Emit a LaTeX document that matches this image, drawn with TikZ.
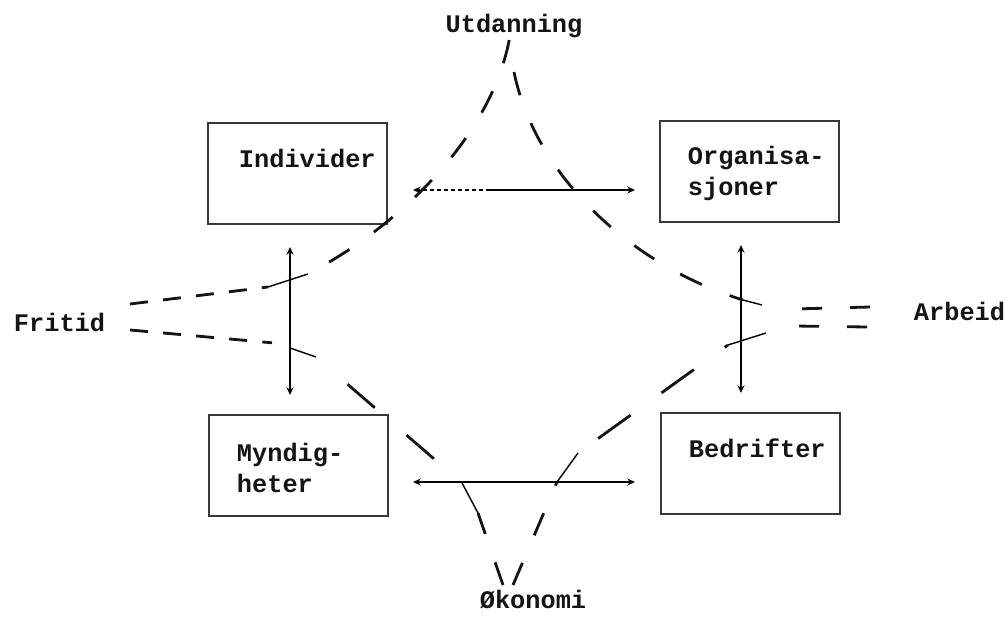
\documentclass[tikz,border=0pt]{standalone}
\usepackage{fontspec}
\setmonofont{Liberation Mono}
\usetikzlibrary{arrows.meta}
\definecolor{ink}{gray}{0.08}
\definecolor{rule}{gray}{0.22}
\definecolor{thin}{gray}{0.33}

\begin{document}
\begin{tikzpicture}[line width=1.4pt, font=\ttfamily\bfseries\fontsize{18}{22}\selectfont,
    box/.style={draw=rule, line width=1.6pt, minimum width=4.48cm, minimum height=2.52cm},
    word/.style={ink, inner sep=0pt, align=left},
    tip/.tip={Stealth[length=5.5pt,width=5pt]},
    arr/.style={thin, line width=1.4pt, tip-tip},
    tick/.style={thin, line width=1pt},
    link/.style={ink, line width=2pt, dash pattern=on 0.6cm off 0.75cm},
    linklong/.style={link, dash pattern=on 0.9cm off 1.05cm},
    linkshort/.style={link, dash pattern=on 0.45cm off 0.38cm},
    pair/.style={link, dash pattern=on 0.5cm off 0.7cm}]
  \useasboundingbox (0,0) rectangle (25.2,15.4);

  % the four actors
  \node[box] (indiv) at (7.44,11.06) {};
  \node[box] (org)   at (18.74,11.11) {};
  \node[box] (mynd)  at (7.46,3.76) {};
  \node[box] (bedr)  at (18.76,3.81) {};
  \node[word, anchor=base west] (t-indiv) at (5.95,11.225) {Individer};
  \node[word, anchor=base west] (t-org)   at (17.175,10.525) {Organisa-\\sjoner};
  \node[word, anchor=base west] (t-mynd)  at (5.9,3.1) {Myndig-\\heter};
  \node[word, anchor=base west] (t-bedr)  at (17.2,3.975) {Bedrifter};

  % the four fields round them
  \node[word, anchor=base] (utd) at (12.85,14.575) {Utdanning};
  \node[word, anchor=base west] (frit) at (0.325,7.125) {Fritid};
  \node[word, anchor=base west] (arb) at (22.825,7.4) {Arbeid};
  \node[word, anchor=base] (okon) at (13.325,0.2) {Økonomi};

  % arrow ends
  \coordinate (io-l) at (10.325,10.65);
  \coordinate (io-m) at (12.25,10.65);
  \coordinate (io-r) at (15.875,10.65);
  \coordinate (mb-l) at (10.325,3.35);
  \coordinate (mb-r) at (15.875,3.35);
  \coordinate (im-t) at (7.25,9.225);
  \coordinate (im-b) at (7.25,5.525);
  \coordinate (ob-t) at (18.525,9.275);
  \coordinate (ob-b) at (18.525,5.575);

  \draw[thin, line width=1.4pt, -tip] (io-m) -- (io-r);
  \draw[thin, line width=1.4pt, densely dashed, -tip] (io-m) -- (io-l);
  \draw[arr] (mb-l) -- (mb-r);
  \draw[arr] (im-t) -- (im-b);
  \draw[arr] (ob-t) -- (ob-b);

  % where the fields meet the arrows
  \coordinate (fu1) at (6.7,8.225);   \coordinate (fu2) at (7.7,8.55);
  \coordinate (fl1) at (7.25,6.7);    \coordinate (fl2) at (7.9,6.475);
  \coordinate (au1) at (18.575,7.9);  \coordinate (au2) at (19.05,7.775);
  \coordinate (al1) at (18.2,6.775);  \coordinate (al2) at (19.15,7.075);
  \coordinate (ol1) at (11.55,3.325); \coordinate (ol2) at (11.95,2.575);
  \coordinate (or1) at (13.925,3.35); \coordinate (or2) at (14.45,4.075);
  \foreach \a/\b in {fu1/fu2, fl1/fl2, au1/au2, al1/al2, ol1/ol2, or1/or2}
    \draw[tick] (\a) -- (\b);

  \coordinate (ut-l) at (12.73,14.4);
  \coordinate (ut-r) at (12.85,13.6);
  \coordinate (fr-u) at (3.25,7.8);
  \coordinate (fr-l) at (3.25,7.15);
  \coordinate (fr-e) at (6.8,6.83);
  \coordinate (ok-l) at (12.575,0.775);
  \coordinate (ok-r) at (12.825,0.775);
  \coordinate (ok-m) at (13.925,3.35);
  \coordinate (ar-u) at (21.75,7.725);
  \coordinate (ar-ue) at (19.825,7.675);
  \coordinate (ar-l) at (21.675,7.225);
  \coordinate (ar-le) at (19.875,7.25);

  \draw[link] (ut-l) .. controls (12.3,12.15) and (10.25,9.9) .. (fu2);
  \draw[link] (ut-r) .. controls (13.375,11.025) and (15.75,8.775) .. (au1);
  \draw[linkshort] (fr-u) -- (fu1);
  \draw[linkshort] (fr-l) -- (fr-e);
  \draw[link] (ok-l) -- (ol2);
  \draw[linklong, dash phase=1.02cm] (ol1) -- (fl2);
  \draw[link] (ok-r) -- (ok-m);
  \draw[linklong, dash pattern=on 1cm off 0.95cm, dash phase=1.33cm] (or2) -- (al1);
  \draw[pair] (ar-u) -- (ar-ue);
  \draw[pair] (ar-l) -- (ar-le);
\end{tikzpicture}
\end{document}
